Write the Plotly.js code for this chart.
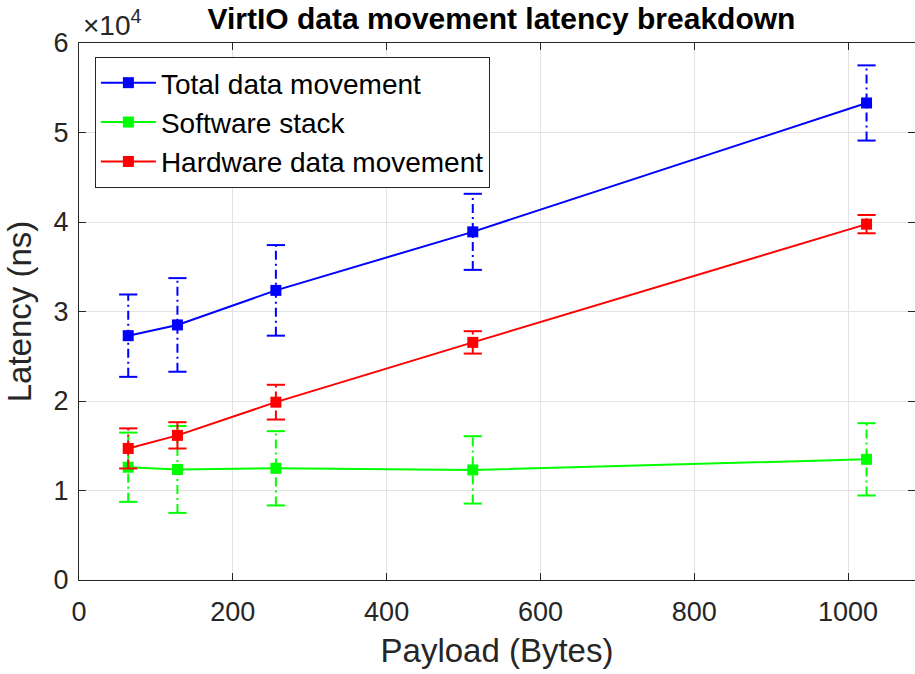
<!DOCTYPE html>
<html>
<head>
<meta charset="utf-8">
<script src="https://cdn.plot.ly/plotly-3.0.1.min.js"></script>
<style>html,body{margin:0;padding:0;background:#fff;}#chart{width:915px;height:674px;}</style>
</head>
<body>
<div id="chart"></div>
<script>
// ---- data ----
const payload = [64, 128, 256, 512, 1024];
const seriesNames = ['Total data movement', 'Software stack', 'Hardware data movement'];
const totalMean = [27300, 28500, 32360, 38900, 53300];
const totalErr  = [4600, 5230, 5060, 4250, 4200];
const softMean  = [12600, 12350, 12480, 12300, 13480];
const softErr   = [3870, 4850, 4150, 3760, 4040];
const hardMean  = [14700, 16160, 19870, 26550, 39760];
const hardErr   = [2240, 1470, 1940, 1250, 1020];
const seriesColors = ['#0000ff', '#00ff00', '#ff0000'];
const yTickVals = [0, 10000, 20000, 30000, 40000, 50000, 60000];
const yTickText = ['0', '1', '2', '3', '4', '5', '6'];
const xTickVals = [0, 200, 400, 600, 800, 1000];

const means = [totalMean, softMean, hardMean];
const errs = [totalErr, softErr, hardErr];
const FONT = 'Liberation Sans, Arial, Helvetica, sans-serif';

const traces = [];
means.forEach((m, i) => {
  const e = errs[i];
  const c = seriesColors[i];
  // dash-dot vertical error segments
  const vx = [], vy = [];
  payload.forEach((x, k) => { vx.push(x, x, null); vy.push(m[k] - e[k], m[k] + e[k], null); });
  traces.push({x: vx, y: vy, mode: 'lines', line: {color: c, width: 2, dash: '9px,4px,2px,4px'},
               showlegend: false, hoverinfo: 'skip', cliponaxis: false});
  // caps
  const cx = [], cy = [];
  payload.forEach((x, k) => { cx.push(x, x); cy.push(m[k] - e[k], m[k] + e[k]); });
  traces.push({x: cx, y: cy, mode: 'markers', marker: {symbol: 'line-ew', size: 13, line: {color: c, width: 2}},
               showlegend: false, hoverinfo: 'skip', cliponaxis: false});
  // main line
  traces.push({x: payload, y: m, name: seriesNames[i], mode: 'lines+markers',
               line: {color: c, width: 2}, marker: {symbol: 'square', size: 11, color: c},
               cliponaxis: false});
});

const layout = {
  width: 915, height: 674,
  margin: {l: 79, r: 0, t: 43, b: 94},
  paper_bgcolor: '#ffffff', plot_bgcolor: '#ffffff',
  font: {family: FONT, color: '#262626'},
  title: {text: '<b>VirtIO data movement latency breakdown</b>', font: {family: FONT, size: 30, color: '#000000'},
          x: 0.548, xanchor: 'center', y: 0.972, yanchor: 'middle'},
  xaxis: {range: [0, 1087], tickvals: xTickVals, ticks: 'inside', ticklen: 7, tickcolor: '#262626',
          showline: true, linecolor: '#262626', linewidth: 1, mirror: 'ticks',
          showgrid: true, gridcolor: '#e3e3e3', gridwidth: 1, zeroline: false,
          tickfont: {family: FONT, size: 27, color: '#262626'}, ticklabelstandoff: 8,
          title: {text: 'Payload (Bytes)', font: {family: FONT, size: 33, color: '#262626'}, standoff: 12}},
  yaxis: {range: [0, 60000], tickvals: yTickVals, ticktext: yTickText, ticks: 'inside', ticklen: 7, tickcolor: '#262626',
          showline: true, linecolor: '#262626', linewidth: 1, mirror: 'ticks',
          showgrid: true, gridcolor: '#e3e3e3', gridwidth: 1, zeroline: false,
          tickfont: {family: FONT, size: 27, color: '#262626'}, ticklabelstandoff: 4,
          title: {text: 'Latency (ns)', font: {family: FONT, size: 33, color: '#262626'}, standoff: 12}},
  legend: {x: 0.019, y: 0.974, xanchor: 'left', yanchor: 'top', bgcolor: '#ffffff',
           bordercolor: '#262626', borderwidth: 1, itemwidth: 55,
           font: {family: FONT, size: 28, color: '#000000'}},
  annotations: [{xref: 'paper', yref: 'paper', x: 0.002, y: 1.0, xanchor: 'left', yanchor: 'bottom',
                 text: '×10<sup>4</sup>', showarrow: false, font: {family: FONT, size: 28, color: '#262626'}}]
};

Plotly.newPlot('chart', traces, layout, {displayModeBar: false, staticPlot: true});
</script>
</body>
</html>
